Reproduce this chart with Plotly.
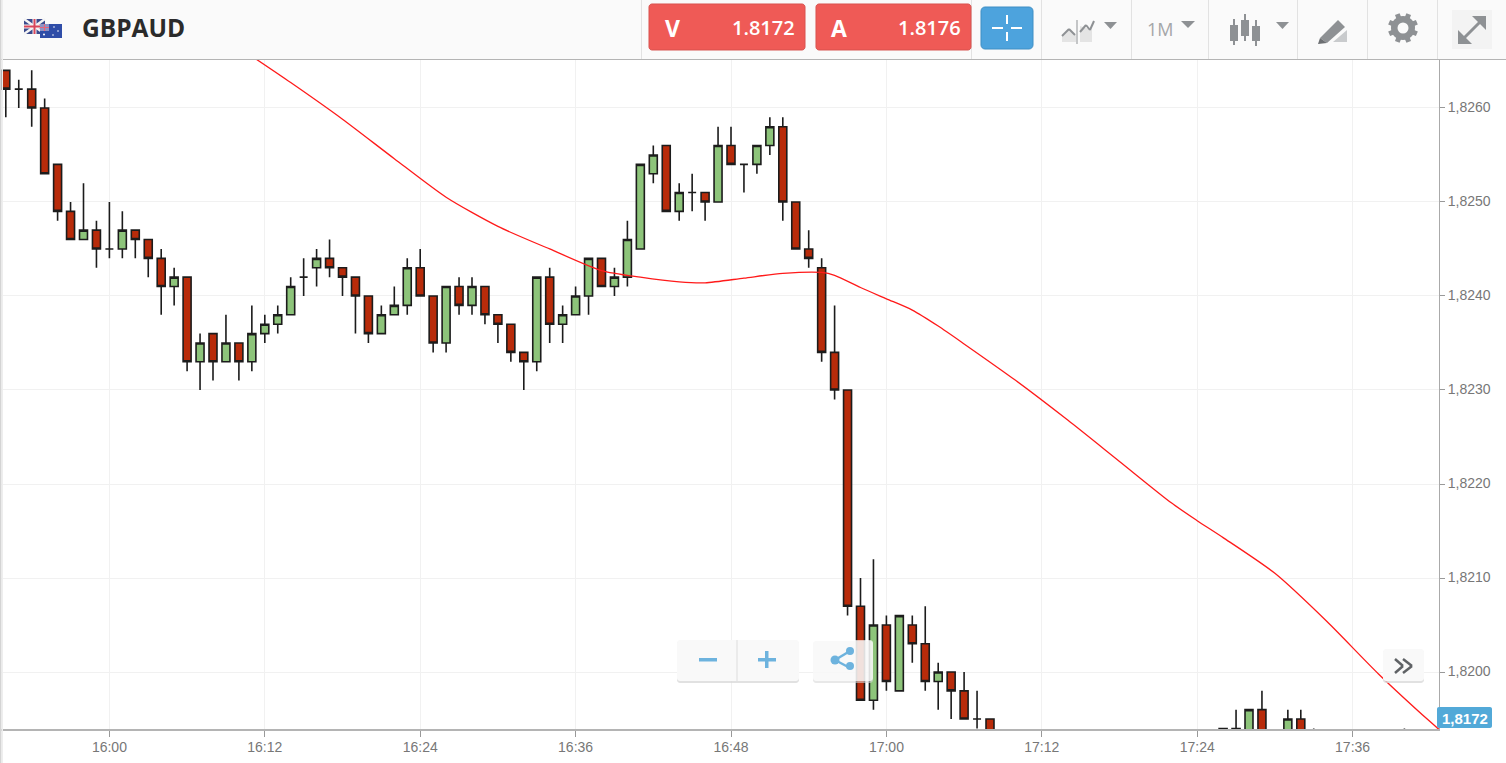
import math
from datetime import datetime, timedelta

import plotly.graph_objects as go

W, H = 1506, 763
PLOT_L, PLOT_R, PLOT_T, PLOT_B = 0, 1439, 60, 729

# minutes after 15:52, prices in 1/10000
minutes = list(range(77)) + [94, 95, 96, 97, 99, 100, 101, 108]
opens = [18264, 18262, 18262, 18260, 18254, 18249, 18246, 18247, 18245, 18245,
         18247, 18246, 18244, 18241, 18242, 18233, 18236, 18233, 18235, 18233,
         18236, 18237, 18238, 18242, 18243, 18244, 18243, 18242, 18240, 18236,
         18238, 18239, 18243, 18240, 18235, 18241, 18239, 18241, 18238, 18237,
         18234, 18233, 18242, 18237, 18238, 18240, 18244, 18241, 18242, 18245,
         18253, 18256, 18249, 18251, 18251, 18250, 18256, 18254, 18254, 18256,
         18258, 18250, 18245, 18243, 18234, 18230, 18207, 18197, 18205, 18198,
         18205, 18203, 18199, 18200, 18198, 18195, 18195,
         18190, 18194, 18191, 18196, 18191, 18195, 18190, 18190]
highs = [18264, 18263, 18264, 18261, 18254, 18250, 18252, 18248, 18250, 18249,
         18247, 18246, 18245, 18243, 18242, 18236, 18236, 18238, 18235, 18239,
         18238, 18239, 18242, 18244, 18245, 18246, 18243, 18242, 18240, 18239,
         18241, 18244, 18245, 18240, 18241, 18242, 18242, 18241, 18238, 18237,
         18234, 18242, 18243, 18239, 18241, 18244, 18244, 18243, 18248, 18254,
         18256, 18256, 18252, 18253, 18251, 18258, 18258, 18254, 18256, 18259,
         18259, 18250, 18247, 18244, 18239, 18230, 18210, 18212, 18206, 18206,
         18206, 18207, 18201, 18200, 18200, 18198, 18195,
         18194, 18196, 18196, 18198, 18196, 18196, 18194, 18194]
lows = [18259, 18260, 18258, 18253, 18248, 18246, 18246, 18243, 18244, 18244,
        18244, 18242, 18238, 18239, 18232, 18230, 18231, 18233, 18231, 18232,
        18235, 18236, 18238, 18240, 18241, 18242, 18240, 18236, 18235, 18236,
        18238, 18238, 18240, 18234, 18234, 18238, 18238, 18237, 18235, 18233,
        18230, 18232, 18235, 18235, 18238, 18238, 18241, 18240, 18241, 18245,
        18252, 18249, 18248, 18249, 18248, 18250, 18254, 18251, 18253, 18255,
        18248, 18245, 18243, 18233, 18229, 18206, 18197, 18196, 18198, 18198,
        18201, 18198, 18196, 18195, 18195, 18194, 18191,
        18189, 18190, 18190, 18190, 18190, 18190, 18189, 18189]
closes = [18262, 18262, 18260, 18253, 18249, 18246, 18247, 18245, 18245, 18247,
          18246, 18244, 18241, 18242, 18233, 18235, 18233, 18235, 18233, 18236,
          18237, 18238, 18241, 18242, 18244, 18243, 18242, 18240, 18236, 18238,
          18239, 18243, 18240, 18235, 18241, 18239, 18241, 18238, 18237, 18234,
          18233, 18242, 18237, 18238, 18240, 18244, 18241, 18242, 18246, 18254,
          18255, 18249, 18251, 18251, 18250, 18256, 18254, 18254, 18256, 18258,
          18250, 18245, 18244, 18234, 18230, 18207, 18197, 18205, 18199, 18206,
          18203, 18199, 18200, 18198, 18195, 18195, 18192,
          18194, 18191, 18196, 18192, 18195, 18191, 18190, 18190]

# moving average line
ma_minutes = [19, 22, 26, 30, 34, 38, 42, 46, 49, 52, 54, 57, 60, 63, 64, 66, 68,
              70, 72, 74, 78, 82, 86, 90, 92, 94, 98, 102, 106, 110, 111]
ma_values = [1.82655, 1.82627, 1.82588, 1.82546, 1.82505, 1.82474, 1.82450,
             1.82427, 1.82420, 1.82415, 1.82414, 1.82419, 1.82424, 1.82425,
             1.82422, 1.82409, 1.82397, 1.82385, 1.82368, 1.82349, 1.82310,
             1.82268, 1.82224, 1.82180, 1.82161, 1.82143, 1.82105, 1.82054,
             1.81998, 1.81947, 1.81935]

base = datetime(2017, 6, 8, 15, 52)
to_time = lambda m: base + timedelta(minutes=m)


def fx(x):
    return (x - PLOT_L) / (PLOT_R - PLOT_L)


def fy(y):
    return 1 - (y - PLOT_T) / (PLOT_B - PLOT_T)


def rect(x0, y0, x1, y1, fill, line=None, opacity=1):
    return dict(type='rect', xref='paper', yref='paper', x0=fx(x0), x1=fx(x1), y0=fy(y0), y1=fy(y1),
                fillcolor=fill, opacity=opacity, line=dict(color=line or fill, width=1 if line else 0))


def seg(x0, y0, x1, y1, color, width=1):
    return dict(type='line', xref='paper', yref='paper', x0=fx(x0), x1=fx(x1), y0=fy(y0), y1=fy(y1),
                line=dict(color=color, width=width))


def circle(cx, cy, r, fill):
    return dict(type='circle', xref='paper', yref='paper', x0=fx(cx-r), x1=fx(cx+r), y0=fy(cy-r), y1=fy(cy+r),
                fillcolor=fill, line=dict(width=0))


def poly(points, fill):
    d = 'M ' + ' L '.join(f'{fx(x):.5f},{fy(y):.5f}' for x, y in points) + ' Z'
    return dict(type='path', xref='paper', yref='paper', path=d, fillcolor=fill, line=dict(width=0))


def round_rect(x0, y0, x1, y1, r, fill, line=None, opacity=1):
    pts = []
    for cx, cy, a0 in [(x1-r, y0+r, -90), (x1-r, y1-r, 0), (x0+r, y1-r, 90), (x0+r, y0+r, 180)]:
        for k in range(5):
            a = math.radians(a0 + k * 22.5)
            pts.append((cx + r * math.cos(a), cy + r * math.sin(a)))
    s = poly(pts, fill)
    s['opacity'] = opacity
    if line:
        s['line'] = dict(color=line, width=1)
    return s


def label(x, y, text, size, color, family='Open Sans', anchor='center', weight=400):
    return dict(xref='paper', yref='paper', x=fx(x), y=fy(y), text=text,
                showarrow=False, xanchor=anchor, yanchor='middle',
                font=dict(size=size, color=color, family=family, weight=weight))


GREY = '#8e9194'
shapes = [
    rect(0, 0, W, 59.5, '#fafafa'),
    seg(0, 59.5, W, 59.5, '#b4b4b4', 1),
    rect(0, 0, 1.5, H, '#d4d4d4'),
    rect(1.5, 0, 3, H, '#eeeeee'),
]
for x in [641.5, 971.5, 1041.5, 1131.5, 1208.5, 1297.5, 1367.5, 1437.5]:
    shapes.append(seg(x, 0, x, 59, '#e2e2e2'))

# flags
shapes += [
    rect(24, 19, 45, 34, '#3a4a8c'),
    seg(24, 19, 45, 34, '#f4f4f4', 2.5), seg(45, 19, 24, 34, '#f4f4f4', 2.5),
    seg(34.5, 19, 34.5, 34, '#f4f4f4', 4), seg(24, 26.5, 45, 26.5, '#f4f4f4', 4),
    seg(34.5, 19, 34.5, 34, '#d8465a', 2), seg(24, 26.5, 45, 26.5, '#d8465a', 2),
    rect(40, 24, 62, 38, '#2f4da8'),
    rect(40, 24, 49, 31, '#8d93c6'),
    seg(44.5, 24, 44.5, 31, '#e9637a', 1), seg(40, 27.5, 49, 27.5, '#e9637a', 1),
    circle(44, 34.5, 1, '#ffffff'), circle(54, 27, 0.8, '#ffffff'),
    circle(58, 31, 0.8, '#ffffff'), circle(53, 35, 0.8, '#ffffff'),
]

# price buttons and crosshair
shapes += [
    round_rect(649, 4, 805, 50, 3, '#ef5a56', '#d9534f'),
    round_rect(816, 4, 971, 50, 3, '#ef5a56', '#d9534f'),
    round_rect(981, 7, 1033, 49, 4, '#4da3dd', '#3f8ec4'),
    seg(1007, 15, 1007, 24, '#ffffff', 2), seg(1007, 32, 1007, 41, '#ffffff', 2),
    seg(992, 28, 1003, 28, '#ffffff', 2), seg(1011, 28, 1022, 28, '#ffffff', 2),
]

# chart type icon
shapes += [
    poly([(1062, 42), (1062, 36), (1069, 29), (1076, 35), (1076, 42)], '#e4e4e4'),
    poly([(1080, 42), (1080, 26), (1092, 30), (1092, 42)], '#e4e4e4'),
    seg(1062, 36, 1069, 29, GREY, 2), seg(1069, 29, 1075, 35, GREY, 2),
    seg(1077, 20, 1077, 44, GREY, 1),
    seg(1080, 32, 1086, 25, GREY, 2), seg(1086, 25, 1090, 30, GREY, 2), seg(1090, 30, 1094, 21, GREY, 2),
    poly([(1104, 22), (1117, 22), (1110.5, 29)], GREY),
    poly([(1181, 21), (1195, 21), (1188, 28)], GREY),
    poly([(1276, 22), (1289, 22), (1282.5, 29)], GREY),
]
# candle icon
for x, y0, y1, b0, b1 in [(1234, 19, 45, 25, 41), (1245, 14, 41, 20, 36), (1256, 20, 46, 26, 41)]:
    shapes += [seg(x, y0, x, y1, GREY, 2), rect(x-4, b0, x+4, b1, GREY)]
# pencil icon
shapes += [
    poly([(1320, 38), (1338, 20), (1345, 27), (1327, 43)], GREY),
    poly([(1318, 44), (1320, 38), (1327, 43)], '#6c6f72'),
    poly([(1347, 30), (1347, 42), (1333, 42)], '#c9cbcd'),
]
# gear icon
for k in range(8):
    a = math.radians(k * 45 + 22.5)
    shapes.append(seg(1403 + 9 * math.cos(a), 28 + 9 * math.sin(a),
                      1403 + 15 * math.cos(a), 28 + 15 * math.sin(a), GREY, 5))
shapes += [circle(1403, 28, 12, GREY), circle(1403, 28, 5.5, '#fafafa')]
# expand icon
shapes += [
    rect(1452, 10, 1492, 49, '#f3f3f3'),
    seg(1461, 41, 1482, 20, GREY, 3),
    poly([(1472, 16), (1486, 16), (1486, 30)], GREY),
    poly([(1458, 30), (1458, 44), (1472, 44)], GREY),
]

# zoom buttons
shapes += [
    round_rect(677, 641, 799, 683, 3, '#d9d9d9', opacity=0.8),
    round_rect(677, 640, 799, 681, 3, '#f9f9f9'),
    seg(737, 640, 737, 681, '#dddddd'),
    rect(699, 658, 717, 661.5, '#6db3de'),
    rect(758, 658, 776, 661.5, '#6db3de'), rect(765, 651, 768.5, 668, '#6db3de'),
    round_rect(813, 641, 873, 683, 3, '#d9d9d9', opacity=0.6),
    round_rect(813, 640, 873, 681, 3, '#ffffff', opacity=0.72),
    seg(835, 660, 850, 651, '#6db3de', 2.5), seg(835, 660, 850, 668, '#6db3de', 2.5),
    circle(835, 660, 4.5, '#6db3de'), circle(850, 651, 4, '#6db3de'), circle(850, 666, 4, '#6db3de'),
    round_rect(1383, 650, 1424, 683, 3, '#d9d9d9', opacity=0.8),
    round_rect(1383, 649, 1424, 681, 3, '#f9f9f9'),
    seg(1395, 659, 1403, 666, '#5f6265', 2.5), seg(1403, 666, 1395, 673, '#5f6265', 2.5),
    seg(1403, 659, 1412, 666, '#5f6265', 2.5), seg(1412, 666, 1403, 673, '#5f6265', 2.5),
    round_rect(1437, 707, 1492, 728, 2, '#52a9d8'),
]

annotations = [
    label(80, 28, 'GBPAUD', 24.5, '#2b2b2b', anchor='left', weight=700),
    label(672, 28, 'V', 23, '#ffffff', weight=700),
    label(797, 27, '1.8172', 20, '#ffffff', anchor='right', weight=600),
    label(839, 28, 'A', 23, '#ffffff', weight=700),
    label(963, 27, '1.8176', 20, '#ffffff', anchor='right', weight=600),
    label(1160, 29, '1M', 18, '#a4a6a8'),
    label(1465, 718, '1,8172', 15, '#ffffff', family='Liberation Sans', weight=700),
]

fig = go.Figure()
fig.add_trace(go.Candlestick(
    x=[to_time(m) for m in minutes],
    open=[v / 10000 for v in opens],
    high=[v / 10000 for v in highs],
    low=[v / 10000 for v in lows],
    close=[v / 10000 for v in closes],
    whiskerwidth=0,
    increasing=dict(fillcolor='#8dc47a', line=dict(color='#1c1c1c', width=1.6)),
    decreasing=dict(fillcolor='#b82b0a', line=dict(color='#1c1c1c', width=1.6)),
    hoverinfo='skip',
    showlegend=False,
))
fig.add_trace(go.Scatter(
    x=[to_time(m) for m in ma_minutes], y=ma_values, mode='lines',
    line=dict(color='#ff1a1a', width=1.3, shape='spline', smoothing=0.7), hoverinfo='skip', showlegend=False,
))

x_start = datetime(2017, 6, 8, 16, 0) + timedelta(minutes=(PLOT_L - 109.4) / 12.95)
x_end = datetime(2017, 6, 8, 16, 0) + timedelta(minutes=(PLOT_R - 109.4) / 12.95)

fig.update_layout(
    width=W, height=H, autosize=False,
    margin=dict(l=PLOT_L, r=W - PLOT_R, t=PLOT_T, b=H - PLOT_B, pad=0),
    paper_bgcolor='#ffffff', plot_bgcolor='#ffffff',
    separators=',.', boxgap=0.12,
    shapes=shapes, annotations=annotations,
    font=dict(family='Liberation Sans', color='#777777', size=14),
)
fig.update_xaxes(
    type='date', range=[x_start, x_end], rangeslider_visible=False,
    tick0=datetime(2017, 6, 8, 16, 0), dtick=720000, tickformat='%H:%M',
    showgrid=True, gridcolor='#f1f1f1', gridwidth=1, zeroline=False,
    ticks='outside', ticklen=6, tickcolor='#999999', showline=True, linecolor='#b4b4b4', linewidth=2,
    ticklabelstandoff=-2,
)
fig.update_yaxes(
    side='right', range=[1.819394, 1.826510], tick0=1.82, dtick=0.001, tickformat='.4f',
    showgrid=True, gridcolor='#f1f1f1', gridwidth=1, zeroline=False,
    ticks='outside', ticklen=5, tickcolor='#999999', showline=True, linecolor='#aaaaaa', linewidth=1,
    ticklabelshift=-1,
)

fig.write_html('out.html', config={'displayModeBar': False},
               post_script="document.body.style.margin='0';document.documentElement.style.overflow='hidden';")
